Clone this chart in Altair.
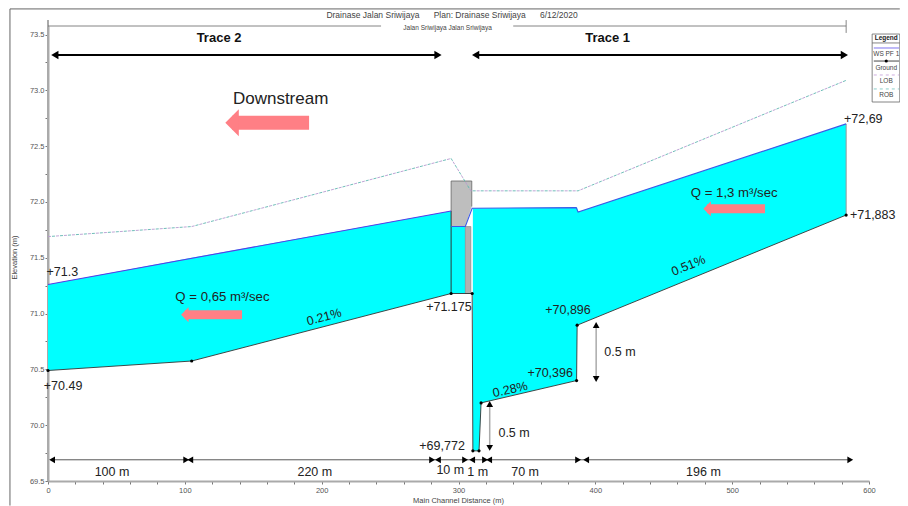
import altair as alt
import pandas as pd

FONT = "Liberation Sans"

# Ground profile
ground_x = [0, 105, 294.6, 310, 310.5, 315, 316.5, 386.3, 386.7, 583.3]
ground_y = [70.49, 70.575, 71.18, 71.18, 69.77, 69.77, 70.2, 70.4, 70.896, 71.883]

# Water bodies: x, bed, water surface
left_x = [0, 105, 294.6]
left_bed = [70.49, 70.575, 71.18]
left_ws = [71.26, 71.5, 71.92]
under_x = [294.6, 305]
under_bed = [71.18, 71.18]
under_ws = [71.78, 71.78]
right_x = [310.5, 315, 316.5, 386.3, 386.7, 387.4, 583.3]
right_bed = [69.77, 69.77, 70.2, 70.4, 70.896, 70.9, 71.883]
right_ws = [71.944, 71.945, 71.945, 71.95, 71.95, 71.91, 72.70]

# Water surface lines
ws1_x = [0, 294.6]
ws1_y = [71.26, 71.92]
ws2_x = [294.6, 305, 310, 386, 387.4, 583.3]
ws2_y = [71.78, 71.78, 71.944, 71.95, 71.91, 72.70]

# Bank stations
bank_x = [0, 105, 294.6, 309, 387.4, 583.3]
bank_y = [71.69, 71.78, 72.39, 72.10, 72.10, 73.09]

# Bridge
deck_x = [294.6, 305, 309.7]
deck_low = [71.78, 71.78, 71.96]
deck_high = [72.188, 72.188, 72.188]
pier = dict(x=[305], x2=[309], y=[71.18], y2=[71.78])

# Texts
big_t = ["+71.3", "+70.49", "+71.175", "+70,896", "+70,396", "+69,772", "+72,69", "+71,883",
         "0.5 m", "0.5 m", "100 m", "220 m", "10 m", "1 m", "70 m", "196 m"]
big_x = [10.5, 11, 293, 380, 367, 288, 595.8, 602.7, 418, 340.6, 46.8, 195, 294, 314, 348.7, 479]
big_y = [71.37, 70.35, 71.06, 71.03, 70.47, 69.81, 72.74, 71.88, 70.66, 69.93,
         69.58, 69.58, 69.6, 69.58, 69.58, 69.58]
q_t = ["Q = 1,3 m³/sec", "Q = 0,65 m³/sec"]
q_x = [501.5, 127.5]
q_y = [72.08, 71.15]
slope_t = ["0.21%", "0.51%", "0.28%"]
slope_x = [201.8, 468, 337.7]
slope_y = [70.97, 71.43, 70.32]
slope_angle = [345, 338, 347]
trace_t = ["Trace 2", "Trace 1"]
trace_x = [125, 409]
trace_y = [73.47, 73.47]

# Black span arrows
span_y = 73.317
span_segments = [(5, 285), (312.5, 582)]
# Dimension line
dim_y = 69.69
dim_left = [3, 104, 285, 310, 322.4, 393.3]
dim_right = [101, 280.7, 304.8, 319.4, 387.4, 586.3]
# Vertical dimension arrows: x, top, bottom
vdims = [(400.6, 70.898, 70.414), (322.8, 70.19, 69.796)]
# Pink arrows: head-centre x, tail x, y, width, head size
pink = [(134.5, 190.8, 72.71, 14, 729), (481.7, 524, 71.94, 9, 225), (100, 141.8, 70.99, 9, 225)]

sx = alt.Scale(domain=[0, 600], nice=False, zero=False)
sy = alt.Scale(domain=[69.5, 73.577], nice=False, zero=False)

xticks = list(range(0, 601, 20))
yticks = [69.5 + 0.25 * i for i in range(17)]
X = alt.X("x:Q", scale=sx, title="Main Channel Distance (m)", axis=alt.Axis(
    values=xticks, grid=False, domainColor="#aaaaaa", domainWidth=2, tickColor="#777777",
    tickSize=3, labelFont=FONT, labelFontSize=7.5, labelColor="#555555", labelPadding=2,
    labelFlush=False, labelOverlap=False,
    labelExpr="datum.value % 100 === 0 ? datum.label : ''",
    titleFont=FONT, titleFontSize=7.5, titleFontWeight="normal", titleColor="#444444",
    titleX=410, titleY=19, titleBaseline="middle"))
Y = alt.Y("y:Q", scale=sy, title="Elevation (m)", axis=alt.Axis(
    values=yticks, grid=False, domainColor="#aaaaaa", domainWidth=2, tickColor="#777777",
    tickSize=3, labelFont=FONT, labelFontSize=7.5, labelColor="#555555", labelPadding=1,
    labelFlush=False, labelOverlap=False,
    labelExpr="(datum.value * 2) % 1 === 0 ? format(datum.value, '.1f') : ''",
    titleFont=FONT, titleFontSize=7.5, titleFontWeight="normal", titleColor="#444444",
    titleX=-30, titleY=231))


def line(xs, ys, color, width=1.0, **kw):
    df = pd.DataFrame({"x": xs, "y": ys, "o": range(len(xs))})
    return alt.Chart(df).mark_line(color=color, strokeWidth=width, clip=False, **kw).encode(
        x=X, y=Y, order="o:Q")


def area(xs, lo, hi, color):
    df = pd.DataFrame({"x": xs, "y": lo, "y2": hi})
    return alt.Chart(df).mark_area(color=color, opacity=1, clip=False).encode(x=X, y=Y, y2="y2:Q")


def pts(xs, ys, shape, size, color="#000000"):
    df = pd.DataFrame({"x": xs, "y": ys})
    return alt.Chart(df).mark_point(shape=shape, size=size, filled=True, color=color, opacity=1,
                                    strokeWidth=0, clip=False).encode(x=X, y=Y)


def text(ts, xs, ys, size, color="#222222", weight="normal", angle=None, align="center"):
    df = pd.DataFrame({"x": xs, "y": ys, "t": ts})
    kw = {} if angle is None else {"angle": angle}
    return alt.Chart(df).mark_text(font=FONT, fontSize=size, color=color, fontWeight=weight,
                                   align=align, baseline="middle", **kw).encode(x=X, y=Y, text="t:N")


layers = []

# frame and top line
layers.append(line([-27.8, 622.5], [73.73, 73.73], "#666666", 1))
layers.append(line([-27.8, -27.8], [73.73, 69.28], "#666666", 1))
layers.append(line([0, 0], [69.5, 73.63], "#aaaaaa", 2))
layers.append(line([0, 243.4], [73.577, 73.577], "#666666", 0.8))
layers.append(line([340, 583.3], [73.577, 73.577], "#666666", 0.8))
layers.append(line([583.3, 583.3], [73.63, 73.515], "#666666", 0.8))

# water
layers.append(area(left_x, left_bed, left_ws, "#00FFFF"))
layers.append(area(under_x, under_bed, under_ws, "#00FFFF"))
layers.append(area(right_x, right_bed, right_ws, "#00FFFF"))
layers.append(line([583.3, 583.3], [71.883, 72.70], "#999999", 1))

# bridge
layers.append(area(deck_x, deck_low, deck_high, "#BEBEBE"))
layers.append(alt.Chart(pd.DataFrame(pier)).mark_rect(color="#B0B0B0", stroke="#888888", strokeWidth=0.7).encode(
    x=X, x2="x2:Q", y=Y, y2="y2:Q"))
layers.append(line([294.6, 294.6, 309.7, 309.7], [71.92, 72.188, 72.188, 71.96], "#666666", 0.8))
layers.append(line([294.6, 294.6], [71.18, 71.92], "#222222", 0.9))

# banks
layers.append(line(bank_x, bank_y, "#B89AD0", 0.9, strokeDash=[3, 5]))
layers.append(line(bank_x, bank_y, "#5FB5B0", 0.9, strokeDash=[3, 5], strokeDashOffset=4))

# water surface
layers.append(line(ws1_x, ws1_y, "#5A3CE6", 1.1))
layers.append(line(ws2_x, ws2_y, "#3C5AE6", 1.1))

# ground
layers.append(line(ground_x, ground_y, "#333333", 0.9))
layers.append(pts(ground_x, ground_y, "circle", 10))

# span arrows
for a, b in span_segments:
    layers.append(line([a, b], [span_y, span_y], "#000000", 2.2))
    layers.append(pts([a], [span_y], "triangle-left", 70))
    layers.append(pts([b], [span_y], "triangle-right", 70))

# dimension line
layers.append(line([3, 586.3], [dim_y, dim_y], "#444444", 0.9))
layers.append(pts(dim_left, [dim_y] * len(dim_left), "triangle-left", 45))
layers.append(pts(dim_right, [dim_y] * len(dim_right), "triangle-right", 45))

# vertical dims
for vx, top, bot in vdims:
    layers.append(line([vx, vx], [top, bot], "#aaaaaa", 1.5))
    layers.append(pts([vx], [top], "triangle-up", 45))
    layers.append(pts([vx], [bot], "triangle-down", 45))

# pink arrows
head = "M-0.5,0L0.5,-1L0.5,1Z"
for tip, tail, yy, w, s in pink:
    layers.append(line([tip, tail], [yy, yy], "#FF7F85", w))
    layers.append(pts([tip], [yy], head, s, "#FF7F85"))

# texts
layers.append(text(big_t, big_x, big_y, 12.5))
layers.append(text(q_t, q_x, q_y, 13.2))
for t, xx, yy, an in zip(slope_t, slope_x, slope_y, slope_angle):
    layers.append(text([t], [xx], [yy], 12.5, angle=an))
layers.append(text(trace_t, trace_x, trace_y, 13, color="#111111", weight="bold"))
layers.append(text(["Downstream"], [170], [72.92], 17))
layers.append(text(["Drainase Jalan Sriwijaya\u00a0\u00a0\u00a0\u00a0\u00a0\u00a0Plan: Drainase Sriwijaya\u00a0\u00a0\u00a0\u00a0\u00a0\u00a06/12/2020"],
                   [295.3], [73.676], 8.5, "#444444"))
layers.append(text(["Jalan Sriwijaya Jalan Sriwijaya"], [292], [73.555], 6.5, "#444444"))

# legend
layers.append(line([602.3, 622.5, 622.5, 602.3, 602.3], [73.505, 73.505, 72.896, 72.896, 73.505], "#666666", 0.8))
layers.append(line([602.3, 622.5], [73.425, 73.425], "#666666", 0.8))
layers.append(line([603.5, 622], [73.38, 73.38], "#8A80F0", 1.1))
layers.append(line([603.5, 622], [73.263, 73.263], "#333333", 0.9))
layers.append(pts([612.6], [73.263], "circle", 10))
layers.append(line([603.5, 622], [73.138, 73.138], "#C9A6DC", 0.9, strokeDash=[3, 3]))
layers.append(line([603.5, 622], [73.013, 73.013], "#7FC9C4", 0.9, strokeDash=[3, 3]))
layers.append(text(["Legend"], [612.6], [73.47], 6.5, "#222222", weight="bold"))
layers.append(text(["WS PF 1", "Ground", "LOB", "ROB"], [612.6] * 4, [73.326, 73.2, 73.084, 72.959], 6.5, "#444444"))

chart = alt.layer(*layers).properties(
    width=821, height=455,
    padding={"left": 40, "top": 18, "right": 31, "bottom": 25},
    autosize=alt.AutoSizeParams(type="none"),
).configure_view(stroke=None)

chart.save("out.html", embed_options={"renderer": "svg", "actions": False})
